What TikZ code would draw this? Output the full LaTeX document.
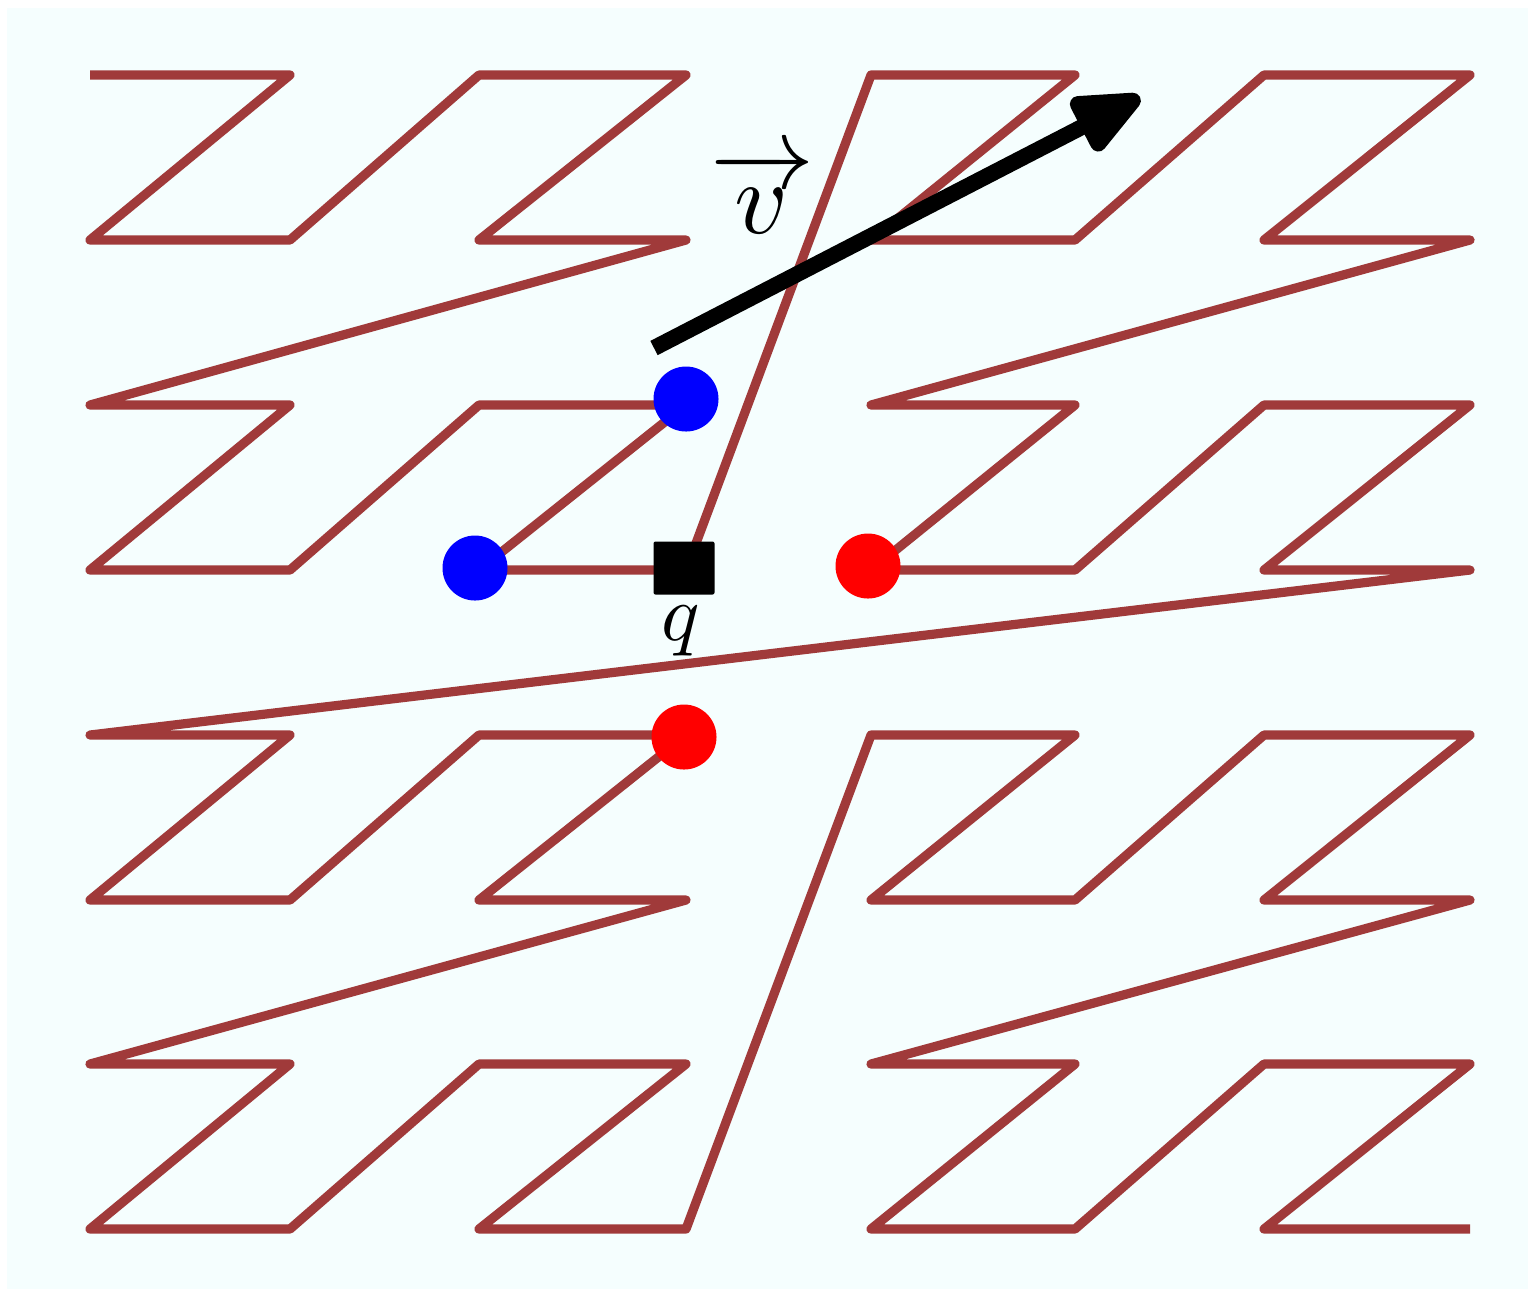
\documentclass[tikz,border=0pt]{standalone}
\usepackage{amsmath}
\usetikzlibrary{arrows.meta}
\definecolor{bgcol}{RGB}{245,254,254}
\definecolor{curvecol}{RGB}{160,58,58}
\tikzset{
  curve/.style={draw=curvecol, line width=2.3pt, line join=round},
  vecarrow/.style={draw=black, line width=4pt, -{Triangle[length=20pt,width=16pt,round]}},
  dot/.style={circle, inner sep=0pt, minimum size=16.25pt},
  qbox/.style={rectangle, fill=black, inner sep=0pt, minimum width=15.25pt, minimum height=13.25pt, rounded corners=0.5pt},
}
\begin{document}
\begin{tikzpicture}[x=0.25pt,y=-0.25pt]
\useasboundingbox (0,0) rectangle (1528,1289);
\fill[bgcol] (7,8) rectangle (1528,1289);
% grid coordinates
\foreach \x [count=\i from 0] in {90,290,479,686,871,1075,1264,1470}{
  \foreach \y [count=\j from 0] in {75,240,405,570,735,900,1064,1229}{
    \coordinate (p\i\j) at (\x,\y);
  }
}
% Z-order curve
\draw[curve]
  (p00) -- (p10) -- (p01) -- (p11) -- (p20) -- (p30) -- (p21) -- (p31) --
  (p02) -- (p12) -- (p03) -- (p13) -- (p22) -- (p32) -- (p23) -- (p33) --
  (p40) -- (p50) -- (p41) -- (p51) -- (p60) -- (p70) -- (p61) -- (p71) --
  (p42) -- (p52) -- (p43) -- (p53) -- (p62) -- (p72) -- (p63) -- (p73) --
  (p04) -- (p14) -- (p05) -- (p15) -- (p24) -- (p34) -- (p25) -- (p35) --
  (p06) -- (p16) -- (p07) -- (p17) -- (p26) -- (p36) -- (p27) -- (p37) --
  (p44) -- (p54) -- (p45) -- (p55) -- (p64) -- (p74) -- (p65) -- (p75) --
  (p46) -- (p56) -- (p47) -- (p57) -- (p66) -- (p76) -- (p67) -- (p77);
% vector arrow
\coordinate (vs) at (654,348);
\coordinate (ve) at (1140,97);
\draw[vecarrow] (vs) -- (ve);
% points
\node[dot, fill=blue] (b1) at (686,399) {};
\node[dot, fill=blue] (b2) at (475,568) {};
\node[dot, fill=red] (r1) at (868,566) {};
\node[dot, fill=red] (r2) at (684,737) {};
\node[qbox] (q) at (684,568) {};
% labels
\node[anchor=base, inner sep=0pt] (ql) at (681,640) {\scalebox{2}{$q$}};
\node[anchor=base, inner sep=0pt] (vl) at (762,233) {\scalebox{2.6}{$\overrightarrow{v}$}};
\end{tikzpicture}
\end{document}
